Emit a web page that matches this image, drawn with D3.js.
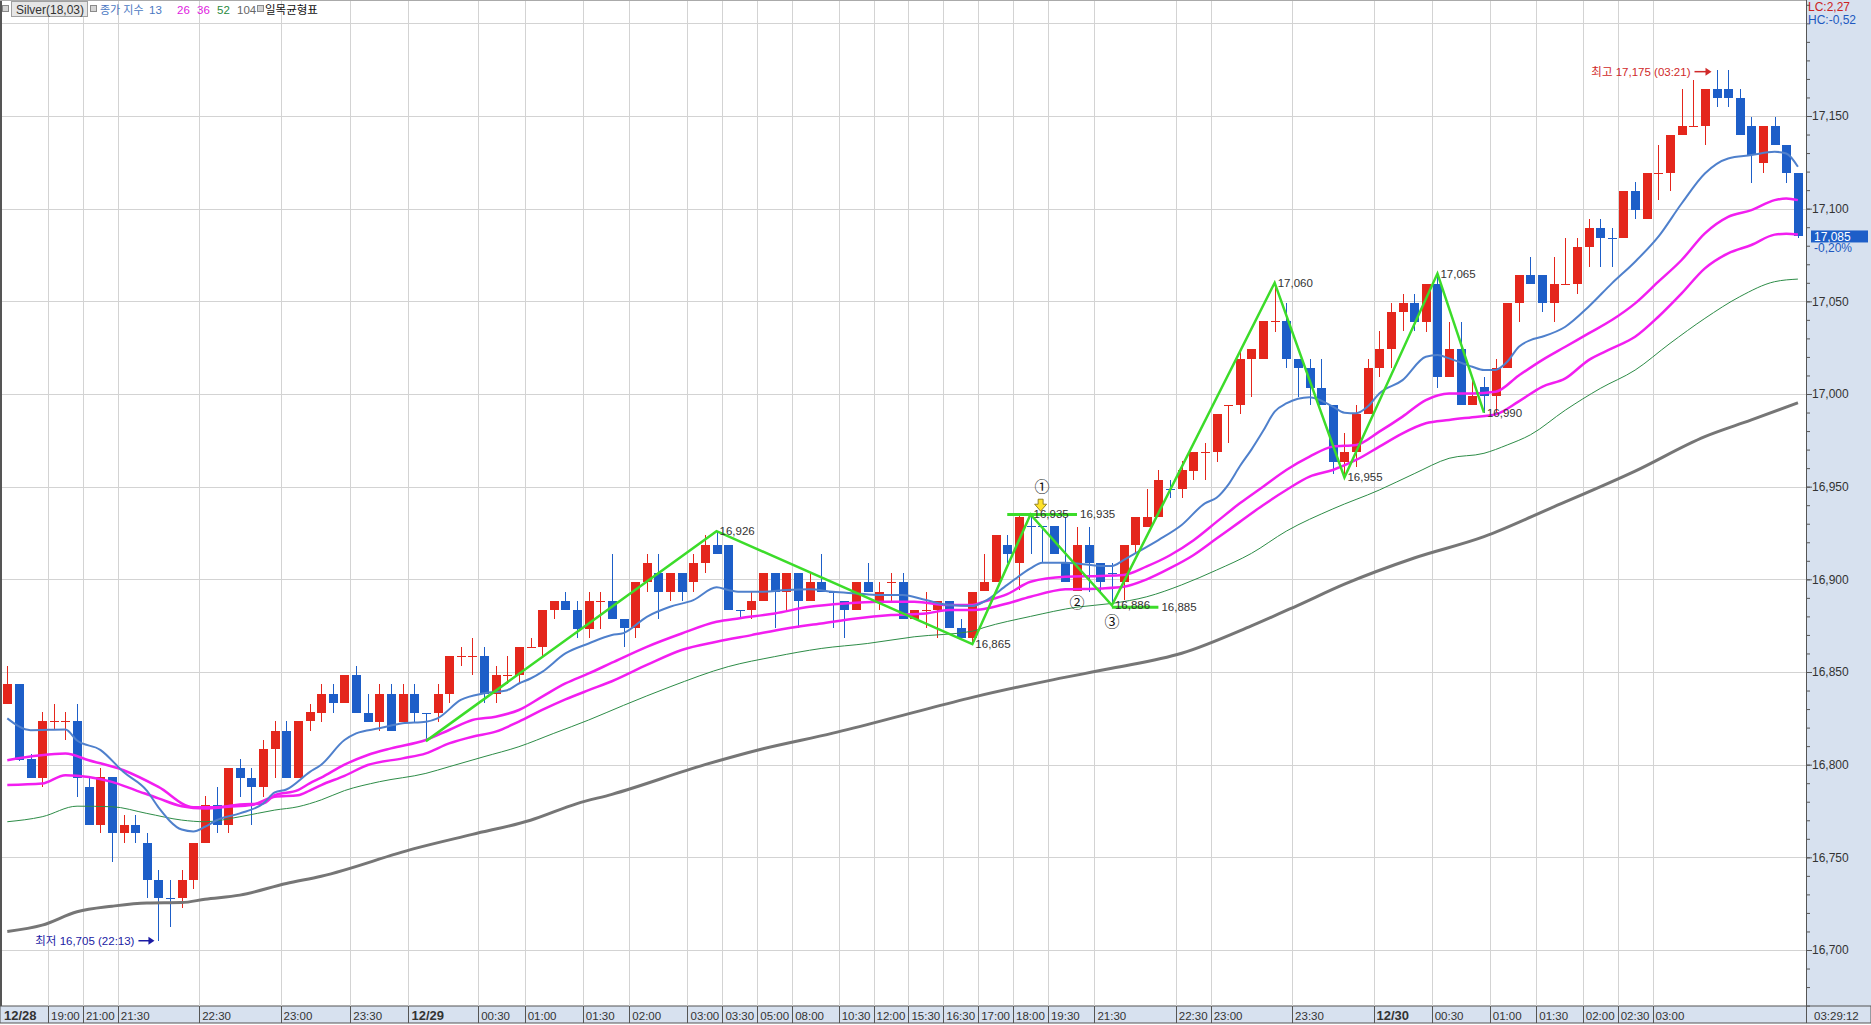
<!DOCTYPE html>
<head>
  <meta charset="utf-8">
  <script src="https://d3js.org/d3.v7.min.js"></script>
  <style>
    body { margin: 0; background: #fff; }
    svg { display: block; }
    text { font-family: "Liberation Sans", "Noto Sans CJK KR", sans-serif; }
  </style>
</head>

<body>
  <svg width="1871" height="1025"></svg>
  <script>
    // data
    var opens = [16833,16843.5,16803,16793,16823,16823.5,16823.5,16787.7,16767.7,16793.4,
      16762.9,16767.7,16757.8,16737.7,16728,16727.8,16737.7,16757.8,16778,16767.7,
      16798,16793,16787.7,16808.2,16818.3,16793,16823.5,16828,16838.1,16833.1,
      16848.3,16828,16823.2,16838.1,16823.2,16838.1,16828.1,16828,16838.1,16858.6,
      16858.6,16858.6,16838.1,16848.2,16848.3,16863.5,16863.6,16883.4,16888.3,16883.4,
      16873.4,16888.2,16888.3,16878.4,16873.5,16898.4,16903.2,16893.3,16903.2,16898.4,
      16908.6,16918.3,16918.3,16883.5,16883.4,16888.5,16903.2,16893.3,16903.2,16888.5,
      16898.4,16893.4,16888.5,16883.4,16898.4,16888.5,16898.3,16898.4,16878.4,16883.3,
      16883.4,16888.5,16873.5,16868.2,16893.7,16898.4,16918.5,16908.6,16928.8,16928.8,
      16928.8,16908.6,16893.7,16918.5,16908.6,16903.4,16898.4,16918.5,16928.4,16933.8,
      16948.6,16948.6,16958.6,16968.5,16968.5,16994,16994.1,17018.7,17018.7,17039.3,
      17039.4,17018.7,17013.8,17003.4,16994.1,16963.5,16968.5,16989.2,17013.8,17024.1,
      17044.1,17049,17039,17059.2,17009,17024.1,16994.1,17003.6,16998.9,17013.8,
      17049,17064.2,17064.2,17048.9,17059,17059.1,17079.1,17089.4,17084.1,17084,
      17109.5,17094.2,17119,17119,17139.7,17144.6,17144.6,17164.4,17164.4,17159.5,
      17144.6,17124.4,17144.6,17134.3,17119];
    var highs = [16853,16843.5,16806,16828.3,16833,16828.3,16833,16793,16798,16793.4,
      16772.8,16772.8,16762.9,16743.1,16737.7,16743,16757.8,16783,16788,16798,
      16803,16798,16813.2,16823.5,16823.5,16823.5,16833,16843.3,16843.3,16848.3,
      16853.2,16838.1,16843.3,16843.3,16843.3,16843.3,16828.1,16843.3,16858.6,16863.6,
      16868.1,16863.6,16853.2,16858.6,16863.6,16868.1,16883.4,16888.3,16893.3,16888.3,
      16893.3,16893.3,16913.6,16878.4,16898.4,16913.7,16913.7,16903.2,16903.2,16913.7,
      16923.9,16926,16918.3,16883.5,16893.3,16903.2,16903.2,16903.2,16903.2,16903.2,
      16913.7,16893.4,16888.5,16898.4,16908.6,16898.4,16903.2,16903.2,16883.4,16893.3,
      16888.5,16888.5,16878.4,16893.3,16913.5,16923.7,16923.7,16934,16935,16928.8,
      16928.8,16933.8,16928.4,16928.4,16908.6,16908.6,16918.5,16933.8,16948.6,16959,
      16953.6,16963.8,16968.5,16973.4,16989.2,16994.1,17024.1,17024.1,17039.4,17060,
      17049,17018.7,17018.7,17018.7,16994.1,16978.8,16994.1,17018.7,17034,17049,
      17053.8,17053.8,17059.2,17065,17039,17039,17008,17009,17018.7,17049,
      17064.2,17074,17064.2,17074,17084,17084,17094.2,17094.2,17089.4,17109.5,
      17114.5,17119,17134.3,17139.7,17164.4,17169.4,17164.4,17175,17175,17164.4,
      17149.6,17144.6,17149.6,17134.3,17119];
    var lows = [16833,16802,16793,16787.7,16818.6,16813.2,16782.7,16767.7,16762.9,16747.6,
      16757.8,16757.8,16727.8,16705,16712.5,16722.4,16732.7,16757.8,16762.9,16763,
      16782.7,16767.7,16782.7,16793,16793,16793,16818.3,16823.2,16828,16833.1,
      16828,16823.2,16818.1,16818.1,16823.2,16823.2,16812.7,16823.2,16833.1,16853.2,
      16848.3,16833.1,16833.1,16843.3,16843.3,16863.5,16858.6,16878.4,16883.4,16868.1,
      16868.1,16873.4,16878.4,16863.7,16868.2,16893.3,16878.4,16888.5,16888.5,16893.3,
      16903.2,16913.7,16883.4,16878.4,16878.4,16888.5,16873.5,16883.4,16873.5,16888.5,
      16893.3,16873.5,16868.2,16883.4,16893.3,16883.4,16888.5,16878.4,16878.4,16873.5,
      16868.2,16873.5,16868.2,16865,16893.7,16898.4,16908.6,16894.2,16913.5,16908.6,
      16913.5,16898.4,16893.7,16893.3,16892.4,16886,16888.9,16913.5,16928.4,16933.8,
      16943.7,16943.7,16953.6,16953.6,16963.5,16973.7,16989.2,16998.6,17018.7,17033.6,
      17013.8,16998.6,16994.1,16994.1,16957,16955,16960.8,16989.2,17009,17013.8,
      17034,17034,17033.6,17003.4,17009,16994.1,16994.1,16990,16990.5,17013.8,
      17039,17059.1,17044,17039,17059,17053.7,17068.7,17068.7,17068.7,17084,
      17094.2,17094.2,17104.6,17109.5,17139.7,17144.6,17134.3,17154.7,17154.7,17139.7,
      17114,17119,17134.3,17114,17084];
    var closes = [16843.5,16802.4,16793,16823.5,16823.5,16823.6,16793,16767.7,16793.4,16762.9,
      16767.7,16762.9,16737.7,16727.8,16727.8,16737.7,16757.8,16778,16767.7,16798,
      16793,16787.7,16808.2,16818.3,16793,16823.5,16828.3,16838.1,16833.1,16848.3,
      16828,16823.2,16838.1,16818.1,16838.1,16828,16828,16838.1,16858.6,16858.7,
      16858.7,16838.1,16848.3,16848.3,16863.6,16863.6,16883.4,16888.3,16883.4,16873.4,
      16888.3,16888.3,16878.4,16873.5,16898.4,16908.6,16893.3,16903.2,16893.3,16908.6,
      16918.3,16913.7,16883.4,16883.4,16888.5,16903.2,16893.3,16903.2,16888.5,16898.4,
      16893.3,16893.3,16883.4,16898.4,16893.3,16893.3,16898.4,16878.4,16883.4,16883.4,
      16888.5,16873.5,16868.2,16893.3,16898.4,16923.7,16913.5,16933.8,16928.7,16928.6,
      16913.5,16898.4,16918.5,16908.6,16898.4,16903.2,16918.5,16933.8,16933.8,16953.6,
      16948.5,16959,16968.5,16968.6,16989.2,16994.1,17018.7,17024.1,17039.4,17039.4,
      17018.7,17013.8,17003.4,16994.1,16963.5,16968.5,16989.2,17013.8,17024.1,17044.1,
      17049,17039,17059.2,17009,17024.1,16994.1,16998.9,16998.9,17013.8,17049,
      17064.2,17059.1,17049,17059.1,17059.1,17079.1,17089.4,17084,17084,17109.5,
      17099.3,17119,17119.1,17139.7,17144.6,17144.7,17164.4,17159.5,17159.5,17139.7,
      17128.9,17144.6,17134.3,17119,17085];

    // moving averages: [bar index, value]
    var ema13 = [[0,16825],[2,16818.6],[5,16819],[6,16813],[8,16808],[10,16796],[12,16786],[13,16777],
      [15,16765],[16,16764],[17,16766.5],[18,16770],[20,16773.7],[22,16779],[23,16785],[24,16786.6],
      [26,16796],[27,16800],[29,16813.3],[30,16816.9],[32,16819.6],[34,16822.3],[36,16823.2],[37,16825],
      [39,16834.9],[41,16838.5],[43,16840.2],[44,16843.8],[45,16846.5],[46,16850.1],[48,16860],[50,16865.4],
      [52,16870],[53,16871],[55,16879.8],[57,16885.2],[59,16888.8],[61,16895.7],[62,16894.2],[63,16893.3],
      [65,16893.3],[67,16894.2],[69,16894.6],[71,16893.3],[73,16892.4],[75,16891.5],[77,16891.5],[79,16888.8],
      [81,16886.1],[83,16885.6],[84,16888],[86,16897],[88,16905.9],[89,16909],[91,16909],[92,16908.6],
      [94,16907.2],[95,16907.2],[96,16910.4],[97,16914],[99,16921.2],[101,16929.3],[103,16941],[104,16944],
      [105,16951],[106,16961],[107,16970],[108,16980],[109,16990.5],[110,16994.9],[112,16998.2],[114,16993.2],
      [115,16989.9],[116,16989.6],[117,16993.2],[118,17000.3],[120,17007.5],[122,17020.1],[123,17021],[124,17019.2],
      [126,17014.7],[127,17012.9],[128,17013],[129,17017.4],[130,17025.5],[131,17029.1],[132,17030.9],[134,17036.3],
      [136,17047.1],[138,17059.7],[140,17071.4],[142,17084.9],[144,17102.8],[146,17119],[148,17127.1],[150,17128.9],
      [152,17130.7],[153,17129.8],[154,17122.6]];
    var ema26 = [[0,16802.4],[5,16806],[7,16802.4],[10,16797],[13,16788],[16,16777],[18,16777],[20,16778.5],
      [22,16779],[23,16783.5],[25,16786.3],[26,16789.9],[27,16793],[29,16800],[31,16805.2],[33,16808.8],
      [36,16813.3],[38,16818.7],[40,16824.1],[42,16825.9],[44,16829.5],[46,16836.7],[48,16843.8],[50,16849.2],
      [52,16855],[55,16863.6],[58,16870.8],[61,16877.1],[63,16879],[66,16881.6],[69,16885.2],[72,16887],
      [75,16887.9],[78,16887.9],[81,16886.1],[83,16886.1],[84,16888],[86,16892],[88,16898.7],[91,16901.4],
      [94,16901.8],[96,16902.3],[98,16907],[100,16913],[102,16921],[104,16931],[106,16941],[108,16950],
      [110,16959],[112,16966.2],[114,16971.6],[116,16972.5],[118,16979.7],[120,16987.8],[122,16996.7],[124,17000.3],
      [126,17000.3],[128,17001.2],[130,17010],[132,17018.3],[134,17025.5],[136,17032.7],[138,17039.9],[140,17048.9],
      [142,17060.6],[144,17072.3],[146,17086.7],[148,17095.6],[150,17099.2],[152,17104.6],[153,17105.5],[154,17104.6]];
    var ema36 = [[0,16789],[3,16789.8],[5,16794.3],[7,16793.4],[9,16790.7],[11,16786.3],[13,16781.8],[15,16777.6],
      [17,16776.4],[19,16777.3],[21,16778.2],[23,16782.7],[25,16783.5],[26,16786],[27,16789],[29,16794],
      [31,16799.8],[34,16803.4],[36,16806.1],[38,16811.5],[40,16815.1],[42,16817.8],[44,16823.2],[46,16829.5],
      [48,16835.2],[50,16840.2],[52,16845],[55,16853.8],[58,16861.9],[61,16866.3],[64,16869.9],[67,16873.5],
      [70,16876.2],[73,16878.9],[76,16880.7],[79,16881.6],[81,16883.4],[83,16883.4],[84,16884],[86,16887],
      [88,16890.6],[91,16894.6],[94,16895.1],[96,16896],[98,16900],[100,16906],[102,16913],[104,16922],
      [106,16931],[108,16940],[110,16948.2],[112,16955.4],[114,16959],[116,16964.4],[118,16971.6],[120,16978.8],
      [122,16984.2],[124,16986],[126,16987.5],[128,16989],[130,16996],[132,17003.9],[134,17008.4],[136,17018.3],
      [138,17024.6],[140,17030.9],[142,17041.7],[144,17054.3],[146,17067.8],[148,17075.9],[150,17080.4],[152,17086],
      [153,17086.5],[154,17086]];
    var ema52 = [[0,16769.2],[3,16771.9],[6,16777.6],[9,16777.3],[12,16773.7],[15,16770.1],[17,16769.2],[20,16771.9],
      [23,16775.5],[25,16777.3],[27,16781],[29,16786],[32,16790.8],[36,16795.3],[38,16798.9],[41,16804.3],
      [44,16809.7],[47,16816.9],[50,16824.1],[53,16832],[57,16842],[62,16852.9],[66,16858.3],[70,16862.7],
      [74,16865.4],[78,16869],[83,16872],[84,16874],[88,16880],[92,16885],[95,16887],[98,16890.6],
      [101,16897],[104,16905],[107,16914],[110,16926],[114,16938],[118,16948.2],[121,16957],[124,16965.3],
      [127,16968],[129,16972.5],[131,16978],[134,16991.3],[137,17003],[140,17012.9],[143,17027.3],[146,17040.8],
      [149,17052.5],[152,17060.6],[154,17062]];
    var ema104 = [[0,16710],[3,16713.4],[6,16720.6],[9,16723.6],[12,16725.4],[15,16725.6],[17,16727.4],[20,16729.6],
      [24,16735.9],[27,16739.8],[35,16754.7],[40,16762.4],[45,16770],[49,16779],[52,16784],[60,16800],
      [65,16808.6],[71,16817],[77,16826.6],[83,16836.3],[90,16845.9],[95,16852],[101,16860.1],[107,16874.9],
      [111,16886],[115,16897.4],[121,16911.5],[127,16923],[133,16939.1],[140,16958.4],[146,16977],[150,16986],
      [154,16995.3]];

    // zigzag turning points
    var zigIdx = [36, 61, 83, 88, 95, 109, 115, 123, 127];
    var zigVal = [16812.7, 16926, 16865, 16935, 16886, 17060, 16955, 17065, 16990];
    var zigLabels = ["", "16,926", "16,865", "16,935", "16,886", "17,060", "16,955", "17,065", "16,990"];
    var levelVal = [16935, 16885];
    var levelFrom = [86, 95];
    var levelTo = [92, 99];
    var levelLabels = ["16,935", "16,885"];

    // x axis
    var tickIdx = [0,4,7,10,17,24,30,35,41,45,50,54,59,62,65,68,72,75,78,81,84,87,90,94,101,104,111,118,123,128,132,136,139,142];
    var tickLabels = ["12/28","19:00","21:00","21:30","22:30","23:00","23:30","12/29","00:30","01:00","01:30","02:00",
      "03:00","03:30","05:00","08:00","10:30","12:00","15:30","16:30","17:00","18:00","19:30","21:30","22:30","23:00",
      "23:30","12/30","00:30","01:00","01:30","02:00","02:30","03:00"];

    // options
    var plotRight = 1806, plotBottom = 1006;
    var red = "#e4261c", blue = "#1d5ec8";
    var panelFill = "#d7e1ef";

    var svg = d3.select("svg");

    // scales
    var x = d3.scaleLinear().domain([0, 154]).range([7.3, 1797.9]);
    var step = x(1) - x(0);
    var y = d3.scaleLinear().domain([16700, 17150]).range([950, 116]);

    // right panel + bottom band
    svg.append("rect").attr("x", plotRight).attr("y", 0).attr("width", 1871 - plotRight).attr("height", plotBottom)
      .attr("fill", panelFill);
    svg.append("rect").attr("x", 0).attr("y", plotBottom).attr("width", 1871).attr("height", 17)
      .attr("fill", panelFill).attr("stroke", "#555").attr("stroke-width", 1);

    // grid
    var grid = svg.append("g").attr("shape-rendering", "crispEdges");
    grid.selectAll(".hg").data(d3.range(16700, 17201, 50)).enter().append("line")
      .attr("x1", 2).attr("x2", plotRight).attr("y1", function(d){ return Math.round(y(d)) + 0.5; })
      .attr("y2", function(d){ return Math.round(y(d)) + 0.5; })
      .attr("stroke", "#d3d3d3");
    grid.selectAll(".vg").data(tickIdx.slice(1)).enter().append("line")
      .attr("x1", function(d){ return Math.round(x(d) - step / 2) + 0.5; })
      .attr("x2", function(d){ return Math.round(x(d) - step / 2) + 0.5; })
      .attr("y1", 0).attr("y2", plotBottom).attr("stroke", "#d3d3d3");

    // frame
    svg.append("rect").attr("x", 0).attr("y", 0).attr("width", 2).attr("height", plotBottom).attr("fill", "#555");
    svg.append("line").attr("x1", 0).attr("x2", plotRight).attr("y1", 0.5).attr("y2", 0.5).attr("stroke", "#aaa");

    // candles
    var candles = svg.append("g").selectAll("g").data(d3.range(opens.length)).enter().append("g")
      .attr("shape-rendering", "crispEdges");
    function col(i){ return closes[i] >= opens[i] ? red : blue; }
    candles.append("line")
      .attr("x1", function(i){ return Math.round(x(i)) + 0.5; })
      .attr("x2", function(i){ return Math.round(x(i)) + 0.5; })
      .attr("y1", function(i){ return y(highs[i]); })
      .attr("y2", function(i){ return y(lows[i]); })
      .attr("stroke", col);
    candles.append("rect")
      .attr("x", function(i){ return Math.round(x(i)) - 4; })
      .attr("width", 9)
      .attr("y", function(i){ return y(Math.max(opens[i], closes[i])); })
      .attr("height", function(i){ return Math.max(1, Math.abs(y(opens[i]) - y(closes[i]))); })
      .attr("fill", col);

    // moving average lines
    var maLine = d3.line().x(function(d){ return x(d[0]); }).y(function(d){ return y(d[1]); })
      .curve(d3.curveMonotoneX);
    var maSpecs = [[ema104, "#767676", 3], [ema52, "#2d8c47", 1], [ema36, "#f21ef0", 2.5],
      [ema26, "#f21ef0", 2.5], [ema13, "#4f80cc", 2]];
    svg.append("g").selectAll("path").data(maSpecs).enter().append("path")
      .attr("d", function(d){ return maLine(d[0]); })
      .attr("fill", "none").attr("stroke", function(d){ return d[1]; })
      .attr("stroke-width", function(d){ return d[2]; });

    // zigzag
    var zig = zigIdx.map(function(d, k){ return [d, zigVal[k]]; });
    var zigG = svg.append("g");
    zigG.append("path").attr("d", d3.line().x(function(d){ return x(d[0]); }).y(function(d){ return y(d[1]); })(zig))
      .attr("fill", "none").attr("stroke", "#3cdc2a").attr("stroke-width", 2.5);
    zigG.selectAll(".lv").data(levelVal).enter().append("line")
      .attr("x1", function(d, k){ return x(levelFrom[k]); })
      .attr("x2", function(d, k){ return x(levelTo[k]); })
      .attr("y1", function(d){ return y(d); }).attr("y2", function(d){ return y(d); })
      .attr("stroke", "#3cdc2a").attr("stroke-width", 3);
    zigG.selectAll(".lvt").data(levelVal).enter().append("text")
      .attr("x", function(d, k){ return x(levelTo[k]) + 3; })
      .attr("y", function(d){ return y(d) + 4; })
      .attr("font-size", 11.5).attr("fill", "#333")
      .text(function(d, k){ return levelLabels[k]; });
    zigG.selectAll(".zt").data(zig.slice(1)).enter().append("text")
      .attr("x", function(d){ return x(d[0]) + 3; })
      .attr("y", function(d){ return y(d[1]) + 4; })
      .attr("font-size", 11.5).attr("fill", "#333")
      .text(function(d, k){ return zigLabels[k + 1]; });

    // pattern marks
    var marks = [["\u2460", 89, 16950], ["\u2461", 92, 16887], ["\u2462", 95, 16877]];
    svg.append("g").selectAll("text").data(marks).enter().append("text")
      .attr("x", function(d){ return x(d[1]); }).attr("y", function(d){ return y(d[2]) + 5; })
      .attr("text-anchor", "middle").attr("font-size", 15).attr("fill", "#111")
      .style("font-family", "'Noto Sans CJK KR', sans-serif")
      .text(function(d){ return d[0]; });
    var ax = x(89) - 1.5, ay = y(16940);
    svg.append("path")
      .attr("d", "M" + (ax - 2.5) + "," + (ay - 6) + "h5v5h3.5l-6,7l-6,-7h3.5z")
      .attr("fill", "#ffe22a").attr("stroke", "#7a6a10").attr("stroke-width", 0.8);

    // high / low notes
    var lowX = x(13), lowY = y(16705);
    svg.append("text").attr("x", lowX - 4 - 20).attr("y", lowY + 4).attr("text-anchor", "end")
      .attr("font-size", 11.5).attr("fill", "#1b1ba4").text("최저 16,705 (22:13)");
    svg.append("path").attr("d", "M" + (lowX - 20) + "," + lowY + "H" + (lowX - 8))
      .attr("stroke", "#1b1ba4").attr("stroke-width", 1.5);
    svg.append("path").attr("d", "M" + (lowX - 4) + "," + lowY + "l-6,-4v8z").attr("fill", "#1b1ba4");
    var hiX = x(147), hiY = y(17175) + 2;
    svg.append("text").attr("x", hiX - 4 - 22).attr("y", hiY + 4).attr("text-anchor", "end")
      .attr("font-size", 11.5).attr("fill", "#d02a2a").text("최고 17,175 (03:21)");
    svg.append("path").attr("d", "M" + (hiX - 22) + "," + hiY + "H" + (hiX - 10))
      .attr("stroke", "#d02a2a").attr("stroke-width", 1.5);
    svg.append("path").attr("d", "M" + (hiX - 5) + "," + hiY + "l-6,-4v8z").attr("fill", "#d02a2a");

    // y axis
    var yMinor = d3.axisRight(y).tickValues(d3.range(16670, 17211, 10)).tickSize(4).tickFormat("");
    var yMajor = d3.axisRight(y).tickValues(d3.range(16700, 17151, 50)).tickSize(6).tickPadding(0)
      .tickFormat(d3.format(","));
    var gMinor = svg.append("g").attr("transform", "translate(" + plotRight + ",0)").call(yMinor);
    var gMajor = svg.append("g").attr("transform", "translate(" + plotRight + ",0)").call(yMajor);
    [gMinor, gMajor].forEach(function(g){
      g.select(".domain").remove();
      g.selectAll("line").attr("stroke", "#555");
      g.selectAll("text").attr("fill", "#333").attr("font-size", 12)
        .style("font-family", "'Liberation Sans', sans-serif");
    });
    svg.append("line").attr("x1", plotRight + 0.5).attr("x2", plotRight + 0.5).attr("y1", 0).attr("y2", 1023)
      .attr("stroke", "#555");

    // last price
    var lastY = y(closes[closes.length - 1]);
    svg.append("rect").attr("x", 1811).attr("y", lastY - 6).attr("width", 57).attr("height", 12).attr("fill", blue);
    svg.append("text").attr("x", 1814).attr("y", lastY + 4.5).attr("font-size", 12).attr("fill", "#fff").text("17,085");
    svg.append("text").attr("x", 1814).attr("y", lastY + 16).attr("font-size", 12).attr("fill", "#2058c0").text("-0,20%");
    svg.append("text").attr("x", 1808).attr("y", 11).attr("font-size", 12).attr("fill", "#cc2222").text("LC:2,27");
    svg.append("text").attr("x", 1808).attr("y", 24).attr("font-size", 12).attr("fill", "#2058c0").text("HC:-0,52");

    // x axis band
    var xb = svg.append("g");
    xb.selectAll("line").data(tickIdx.slice(1)).enter().append("line")
      .attr("x1", function(d){ return Math.round(x(d) - step / 2) + 0.5; })
      .attr("x2", function(d){ return Math.round(x(d) - step / 2) + 0.5; })
      .attr("y1", plotBottom).attr("y2", plotBottom + 17).attr("stroke", "#555");
    xb.selectAll("text").data(tickIdx).enter().append("text")
      .attr("x", function(d){ return d === 0 ? 4 : x(d) - step / 2 + 3; })
      .attr("y", plotBottom + 13.5)
      .attr("font-size", function(d, k){ return tickLabels[k].indexOf("/") > 0 ? 13 : 11.5; })
      .attr("font-weight", function(d, k){ return tickLabels[k].indexOf("/") > 0 ? "bold" : "normal"; })
      .attr("fill", "#333")
      .text(function(d, k){ return tickLabels[k]; });
    xb.append("text").attr("x", 1814).attr("y", plotBottom + 13.5).attr("font-size", 11.5).attr("fill", "#333")
      .text("03:29:12");

    // legend
    var lg = svg.append("g");
    [2, 90, 257].forEach(function(px){
      lg.append("rect").attr("x", px + 0.5).attr("y", 5.5).attr("width", 6).attr("height", 6)
        .attr("fill", "#d4d4d4").attr("stroke", "#8a8a8a");
    });
    lg.append("rect").attr("x", 11.5).attr("y", 1.5).attr("width", 76).attr("height", 15)
      .attr("fill", "#e6e6e6").attr("stroke", "#a0a0a0");
    lg.append("text").attr("x", 16).attr("y", 13.5).attr("font-size", 12).attr("fill", "#333").text("Silver(18,03)");
    var legendItems = [["종가 지수", 100, "#4a78c2", 11], ["13", 149, "#4a78c2", 11.5], ["26", 177, "#e020e0", 11.5],
      ["36", 197, "#e020e0", 11.5], ["52", 217, "#2a8a40", 11.5], ["104", 237, "#666", 11.5],
      ["일목균형표", 265, "#111", 11.5]];
    lg.selectAll(".li").data(legendItems).enter().append("text")
      .attr("x", function(d){ return d[1]; }).attr("y", 14)
      .attr("font-size", function(d){ return d[3]; }).attr("fill", function(d){ return d[2]; })
      .text(function(d){ return d[0]; });
  </script>
</body>
